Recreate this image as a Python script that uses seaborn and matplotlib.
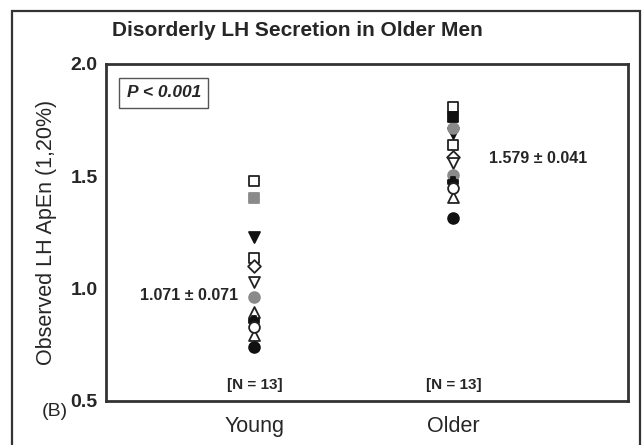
import matplotlib
matplotlib.use("Agg")
import matplotlib.pyplot as plt
from matplotlib.patches import Rectangle
import seaborn as sns
import pandas as pd

# Approximate entropy of LH release, one value per subject
groups = ["Young", "Older"]
young_apen = [1.481, 1.405, 1.229, 1.135, 1.101, 1.028, 0.964, 0.898, 0.858, 0.831, 0.794, 0.742]
older_apen = [1.810, 1.765, 1.714, 1.692, 1.640, 1.587, 1.558, 1.506, 1.473, 1.447, 1.409, 1.313]
group_summary = ["1.071 \u00b1 0.071", "1.579 \u00b1 0.041"]
group_n = [13, 13]
p_text = "P < 0.001"
y_ticks = [0.5, 1.0, 1.5, 2.0]

# Symbol per subject: (marker, fill)
young_style = [("s", "open"), ("s", "grey"), ("v", "black"), ("s", "open"), ("D", "open"),
               ("v", "open"), ("o", "grey"), ("^", "open"), ("P", "black"), ("o", "open"),
               ("^", "open"), ("o", "black")]
older_style = [("s", "open"), ("s", "black"), ("o", "grey"), ("v", "black"), ("s", "open"),
               ("D", "open"), ("v", "open"), ("o", "grey"), ("P", "black"), ("o", "open"),
               ("^", "open"), ("o", "black")]

sns.set_style("white")
plt.rcParams["font.family"] = ["Liberation Sans", "DejaVu Sans"]

rows = []
for gi, (vals, styles) in enumerate([(young_apen, young_style), (older_apen, older_style)]):
    for v, (m, f) in zip(vals, styles):
        rows.append({"group": groups[gi], "xpos": gi + 1, "apen": v, "marker": m, "fill": f})
df = pd.DataFrame(rows)

fig = plt.figure(figsize=(6.44, 4.45), dpi=100)
ax = fig.add_axes([0.1646, 0.0989, 0.8106, 0.7573])

# Outer panel frame
fig.patches.append(Rectangle((12 / 644, -0.05), (640 - 12) / 644, 1.05 - 11 / 445,
                             transform=fig.transFigure, fill=False,
                             edgecolor="#333333", linewidth=1.6, zorder=0))

face_map = {"open": "white", "grey": "#8a8a8a", "black": "#111111"}
edge_map = {"open": "#222222", "grey": "#8a8a8a", "black": "#111111"}
size_map = {"s": 55, "D": 42, "v": 62, "^": 62, "o": 60, "P": 45}

for (m, f), sub in df.groupby(["marker", "fill"], sort=False):
    sns.scatterplot(data=sub, x="xpos", y="apen", marker=m, s=size_map[m],
                    color=face_map[f], edgecolor=edge_map[f], linewidth=1.3,
                    ax=ax, legend=False, zorder=3)

ax.set_xlim(0.254, 2.877)
ax.set_ylim(0.5, 2.0)
ax.set_xticks([0.5, 1, 1.5, 2, 2.5])
ax.set_xticklabels(["", groups[0], "", groups[1], ""], fontsize=15.5)
ax.set_yticks(y_ticks)
ax.set_yticklabels([f"{t:.1f}" for t in y_ticks], fontsize=14, fontweight="bold")
ax.tick_params(axis="both", direction="in", length=6, width=1.2, color="#333333", pad=6)
ax.tick_params(axis="x", pad=11)
ax.set_xlabel("")
ax.set_ylabel("Observed LH ApEn (1,20%)", fontsize=15.5, labelpad=10)
for sp in ax.spines.values():
    sp.set_visible(True)
    sp.set_linewidth(2)
    sp.set_color("#333333")

fig.text(297 / 644, 1 - 30 / 445, "Disorderly LH Secretion in Older Men",
         ha="center", va="center", fontsize=15, fontweight="bold")

# Group summaries
ax.text(0.92, 0.97, group_summary[0], ha="right", va="center", fontsize=11.5, fontweight="bold")
ax.text(2.18, 1.58, group_summary[1], ha="left", va="center", fontsize=11.5, fontweight="bold")
for gi, n in enumerate(group_n):
    ax.text(gi + 1, 0.573, f"[N = {n}]", ha="center", va="center", fontsize=11, fontweight="bold")

ax.text(0.358, 1.872, p_text, ha="left", va="center", fontsize=12.5, fontweight="bold",
        style="italic", bbox=dict(boxstyle="square,pad=0.42", facecolor="white",
                                  edgecolor="#555555", linewidth=1))

fig.text(42 / 644, 1 - 411 / 445, "(B)", ha="left", va="center", fontsize=14)

fig.savefig("out.png", dpi=100)
